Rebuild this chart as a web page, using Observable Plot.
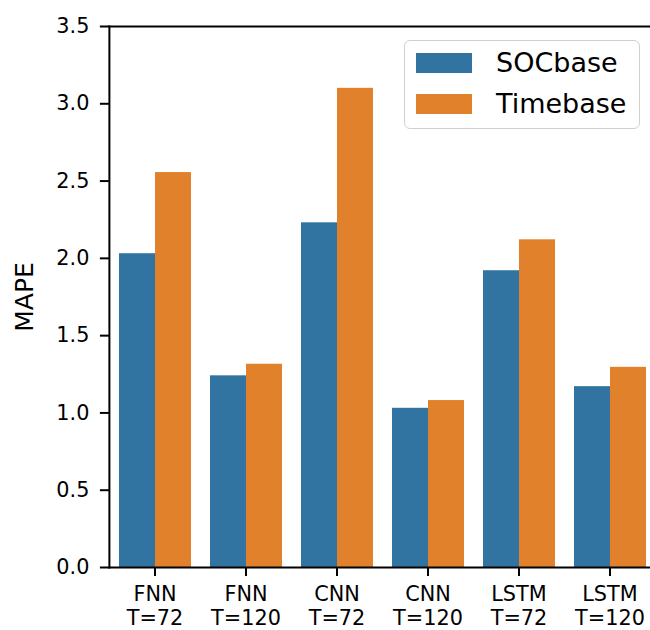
<!DOCTYPE html>
<html>
<head>
<meta charset="utf-8">
<script src="https://cdn.jsdelivr.net/npm/d3@7"></script>
<script src="https://cdn.jsdelivr.net/npm/@observablehq/plot@0.6"></script>
<style>
  body { margin: 0; background: #fff; font-family: "DejaVu Sans", sans-serif; }
  #wrap { position: relative; width: 650px; height: 630px; overflow: hidden; }
  #legend {
    position: absolute; left: 404px; top: 40px; width: 234px; height: 87px;
    border: 1.5px solid #d0d0d0; border-radius: 6px; background: rgba(255,255,255,0.8);
    font-size: 27px; color: #000;
  }
  .item { position: absolute; left: 11px; display: flex; align-items: center; }
  .sw { width: 56px; height: 20px; margin-right: 24px; }
</style>
</head>
<body>
<div id="wrap"></div>
<script>
// MAPE per model / horizon, for the two training bases
const models   = ["FNN", "FNN", "CNN", "CNN", "LSTM", "LSTM"];
const horizons = [72, 120, 72, 120, 72, 120];
const series   = ["SOCbase", "Timebase"];
const socbase  = [2.03, 1.24, 2.23, 1.03, 1.92, 1.17];
const timebase = [2.555, 1.315, 3.10, 1.08, 2.12, 1.295];
const yTicks   = [0, 0.5, 1.0, 1.5, 2.0, 2.5, 3.0, 3.5];
const yLabel   = "MAPE";
const colors   = ["#3274a1", "#e1812c"];

const groups = models.map((m, i) => `${m}\nT=${horizons[i]}`);
const rows = [];
groups.forEach((g, i) => {
  rows.push({group: g, series: series[0], value: socbase[i]});
  rows.push({group: g, series: series[1], value: timebase[i]});
});

// facets sit one outer-padding step in from the axes' left spine
const outerPad = 0.1;
const step = (650 + 5 - 109) / (groups.length - 0.2 + 2 * outerPad);
const pad = outerPad * step;

const spine = {facet: "super", stroke: "#000", strokeWidth: 2};

const chart = Plot.plot({
  width: 650,
  height: 630,
  marginLeft: 109,
  marginRight: -5,
  marginTop: 26,
  marginBottom: 63,
  style: {fontFamily: "DejaVu Sans, sans-serif", color: "#000", background: "#fff"},
  fx: {domain: groups, paddingInner: 0.2, paddingOuter: outerPad, axis: null},
  x: {domain: series, padding: 0, axis: null},
  y: {domain: [0, 3.5], axis: null},
  color: {domain: series, range: colors},
  marks: [
    Plot.barY(rows, {fx: "group", x: "series", y: "value", fill: "series"}),
    // left, bottom and top spines
    Plot.frame({...spine, anchor: "left", dx: -pad}),
    Plot.frame({...spine, anchor: "bottom", insetLeft: -pad, insetRight: -2 * pad}),
    Plot.frame({...spine, anchor: "top", insetLeft: -pad, insetRight: -2 * pad}),
    Plot.axisY({ticks: yTicks, tickSize: 9, tickPadding: 11, strokeWidth: 2,
      dx: -pad, tickFormat: d3.format(".1f"), fontSize: 20.8, label: null}),
    Plot.text([yLabel], {facet: "super", frameAnchor: "left", textAnchor: "middle",
      rotate: -90, dx: -pad - 84, fontSize: "25px", fill: "#000"}),
    Plot.axisFx({anchor: "bottom", tickSize: 9, tickPadding: 8, strokeWidth: 2,
      fontSize: 20.8, lineHeight: 1.15, label: null, tickFormat: d => d})
  ]
});

const wrap = document.getElementById("wrap");
wrap.appendChild(chart);

// legend box
const legend = document.createElement("div");
legend.id = "legend";
series.forEach((s, i) => {
  const item = document.createElement("div");
  item.className = "item";
  item.style.top = (i === 0 ? 6 : 47) + "px";
  const sw = document.createElement("div");
  sw.className = "sw";
  sw.style.background = colors[i];
  const lab = document.createElement("span");
  lab.textContent = s;
  item.appendChild(sw);
  item.appendChild(lab);
  legend.appendChild(item);
});
wrap.appendChild(legend);
</script>
</body>
</html>
